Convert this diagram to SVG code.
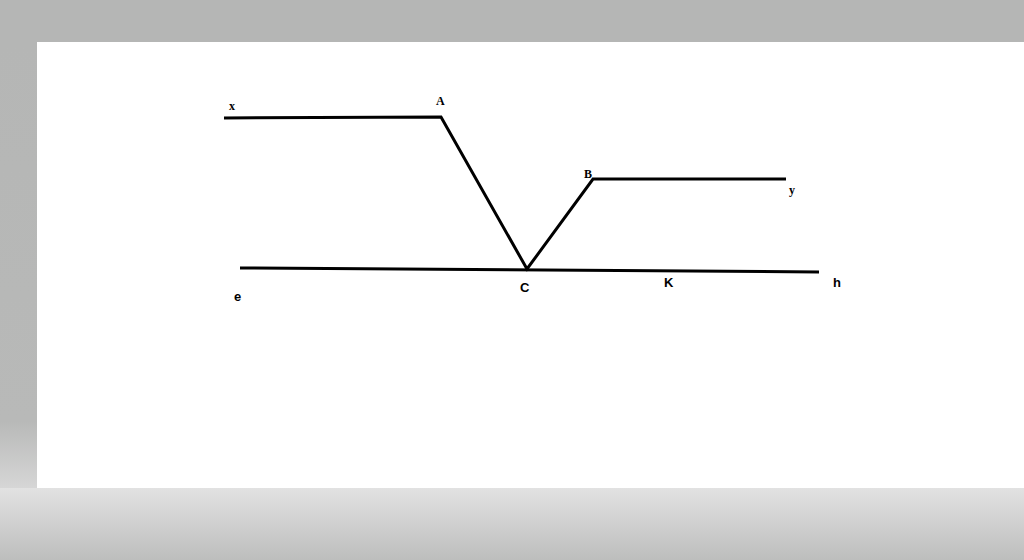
<svg xmlns="http://www.w3.org/2000/svg" width="1024" height="560" viewBox="0 0 1024 560">
<defs>
<linearGradient id="bot" x1="0" y1="0" x2="0" y2="1">
<stop offset="0" stop-color="#e2e2e2"/>
<stop offset="1" stop-color="#bdbebd"/>
</linearGradient>
<linearGradient id="left" x1="0" y1="0" x2="0" y2="1">
<stop offset="0" stop-color="#b5b6b5"/>
<stop offset="0.85" stop-color="#b8b9b8"/>
<stop offset="1" stop-color="#d6d6d6"/>
</linearGradient>
<style>
.ln{stroke:#000;stroke-width:3;fill:none;stroke-linejoin:miter;stroke-linecap:butt}
.serif{font-family:"Liberation Serif",serif;font-weight:bold;font-size:12px;fill:#000}
.sans{font-family:"Liberation Sans",sans-serif;font-weight:bold;font-size:13px;fill:#000}
</style>
</defs>
<rect width="1024" height="560" fill="#b5b6b5"/>
<rect x="0" y="42" width="37" height="446" fill="url(#left)"/>
<rect x="0" y="488" width="1024" height="72" fill="url(#bot)"/>
<rect x="37" y="42" width="987" height="446" fill="#fff"/>
<g id="lines">
<polyline class="ln" points="224,118 441,117 527,269 593,179 786,179"/>
<line class="ln" x1="240" y1="268" x2="819" y2="272"/>
</g>
<g id="labels">
<text class="serif" x="229" y="110">x</text>
<text class="serif" x="436" y="105">A</text>
<text class="serif" x="584" y="178">B</text>
<text class="serif" x="789" y="194">y</text>
<text class="sans" x="234" y="301">e</text>
<text class="sans" x="520" y="292">C</text>
<text class="sans" x="664" y="287">K</text>
<text class="sans" x="833" y="287">h</text>
</g>
</svg>
